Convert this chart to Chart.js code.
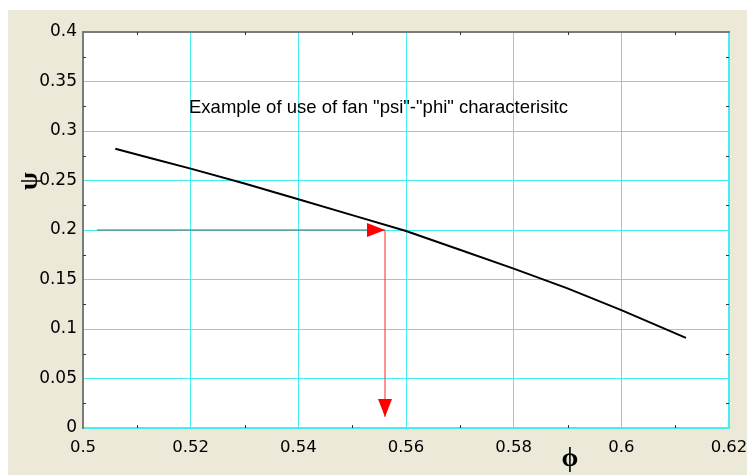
<!DOCTYPE html>
<html>
<head>
<meta charset="utf-8">
<script src="https://cdn.jsdelivr.net/npm/chart.js@4.4.1/dist/chart.umd.min.js"></script>
<style>
  html, body { margin: 0; padding: 0; background: #fff; }
  canvas { display: block; }
</style>
</head>
<body>
<canvas id="myChart" width="747" height="475"></canvas>
<script>
// fan characteristic
var phi = [0.506, 0.513, 0.52, 0.53, 0.54, 0.55, 0.56, 0.57, 0.58, 0.59, 0.60, 0.612];
var psi = [0.282, 0.272, 0.262, 0.247, 0.231, 0.215, 0.199, 0.180, 0.161, 0.141, 0.119, 0.091];

// operating point arrows
var arrowHX = [0.5026, 0.5561];
var arrowHY = [0.2, 0.2];
var arrowVX = [0.5561, 0.5561];
var arrowVY = [0.2, 0.011];

var xTickLabels = ["0.5", "0.52", "0.54", "0.56", "0.58", "0.6", "0.62"];
var yTickLabels = ["0", "0.05", "0.1", "0.15", "0.2", "0.25", "0.3", "0.35", "0.4"];

var chartTitle = 'Example of use of fan "psi"-"phi" characterisitc';
var xTitle = "\u03D5";
var yTitle = "\u03C8";

function pairs(xs, ys) {
  return xs.map(function(x, i) { return { x: x, y: ys[i] }; });
}

var gridCyan = "#45eeee";

var frame = {
  id: "frame",
  beforeDraw: function(chart) {
    var c = chart.ctx, a = chart.chartArea;
    c.save();
    c.fillStyle = "#fff";
    c.fillRect(0, 0, chart.width, chart.height);
    c.fillStyle = "#ece9d8";
    c.fillRect(8, 10, chart.width - 8, chart.height - 10);
    c.fillStyle = "#fff";
    c.fillRect(a.left, a.top, a.right - a.left, a.bottom - a.top);
    c.restore();
  },
  afterDatasetsDraw: function(chart) {
    var c = chart.ctx, a = chart.chartArea;
    var xs = chart.scales.x, ys = chart.scales.y;
    c.save();

    // arrow heads
    c.fillStyle = "#ff0000";
    var hx = xs.getPixelForValue(arrowHX[1]), hy = ys.getPixelForValue(arrowHY[1]);
    c.beginPath();
    c.moveTo(hx, hy);
    c.lineTo(hx - 18, hy - 7);
    c.lineTo(hx - 18, hy + 7);
    c.closePath();
    c.fill();
    var vx = xs.getPixelForValue(arrowVX[1]), vy = ys.getPixelForValue(arrowVY[1]);
    c.beginPath();
    c.moveTo(vx, vy);
    c.lineTo(vx - 7, vy - 18);
    c.lineTo(vx + 7, vy - 18);
    c.closePath();
    c.fill();

    // border: sunken look
    c.strokeStyle = gridCyan;
    c.lineWidth = 2;
    c.beginPath();
    c.moveTo(a.left, a.bottom);
    c.lineTo(a.right, a.bottom);
    c.lineTo(a.right, a.top);
    c.stroke();
    c.strokeStyle = "#7a7a7a";
    c.beginPath();
    c.moveTo(a.left, a.bottom + 1);
    c.lineTo(a.left, a.top);
    c.lineTo(a.right + 1, a.top);
    c.stroke();

    // minor ticks
    c.strokeStyle = "#333";
    c.lineWidth = 1;
    var v, p;
    for (v = 0.51; v < 0.62; v += 0.02) {
      p = Math.round(xs.getPixelForValue(v)) + 0.5;
      c.beginPath();
      c.moveTo(p, a.top); c.lineTo(p, a.top + 3);
      c.moveTo(p, a.bottom); c.lineTo(p, a.bottom - 3);
      c.stroke();
    }
    for (v = 0.025; v < 0.4; v += 0.05) {
      p = Math.round(ys.getPixelForValue(v)) + 0.5;
      c.beginPath();
      c.moveTo(a.left, p); c.lineTo(a.left + 3, p);
      c.moveTo(a.right, p); c.lineTo(a.right - 3, p);
      c.stroke();
    }

    // texts
    c.fillStyle = "#000";
    c.font = "18.5px 'Liberation Sans', Arial, sans-serif";
    c.textAlign = "left";
    c.textBaseline = "middle";
    c.fillText(chartTitle, 189, 108);

    c.font = "bold 27px 'Liberation Serif', 'Times New Roman', serif";
    c.textAlign = "center";
    c.fillText(xTitle, 570, 459);

    c.translate(30, 181);
    c.rotate(-Math.PI / 2);
    c.font = "bold 26px 'Liberation Serif', 'Times New Roman', serif";
    c.fillText(yTitle, 0, 0);
    c.restore();
  }
};

var ctx = document.getElementById("myChart").getContext("2d");
var myChart = new Chart(ctx, {
  type: "scatter",
  data: {
    datasets: [
      { data: pairs(phi, psi), showLine: true, borderColor: "#000", borderWidth: 2, pointRadius: 0, tension: 0 },
      { data: pairs(arrowHX, arrowHY), showLine: true, borderColor: "#7a5454", borderWidth: 1, pointRadius: 0 },
      { data: pairs(arrowVX, arrowVY), showLine: true, borderColor: "#ff4a4a", borderWidth: 1.2, pointRadius: 0 }
    ]
  },
  options: {
    responsive: false,
    animation: false,
    layout: { padding: { top: 32, right: 18, left: 0, bottom: 0 } },
    plugins: { legend: { display: false }, tooltip: { enabled: false } },
    scales: {
      x: {
        type: "linear", min: 0.5, max: 0.62,
        afterFit: function(s) { s.height = 47; s.paddingLeft = 0; s.paddingRight = 0; },
        border: { display: false },
        grid: { color: gridCyan, lineWidth: 1, drawTicks: false },
        ticks: {
          stepSize: 0.02, padding: 10, color: "#000", maxRotation: 0,
          font: { family: "'DejaVu Sans', sans-serif", size: 16.5 },
          callback: function(v, i) { return xTickLabels[i]; }
        }
      },
      y: {
        min: 0, max: 0.4,
        afterFit: function(s) { s.width = 83; s.paddingTop = 0; s.paddingBottom = 0; },
        border: { display: false },
        grid: { color: gridCyan, lineWidth: 1, drawTicks: false },
        ticks: {
          stepSize: 0.05, padding: 6, color: "#000",
          font: { family: "'DejaVu Sans', sans-serif", size: 17 },
          callback: function(v, i) { return yTickLabels[i]; }
        }
      }
    }
  },
  plugins: [frame]
});
</script>
</body>
</html>
